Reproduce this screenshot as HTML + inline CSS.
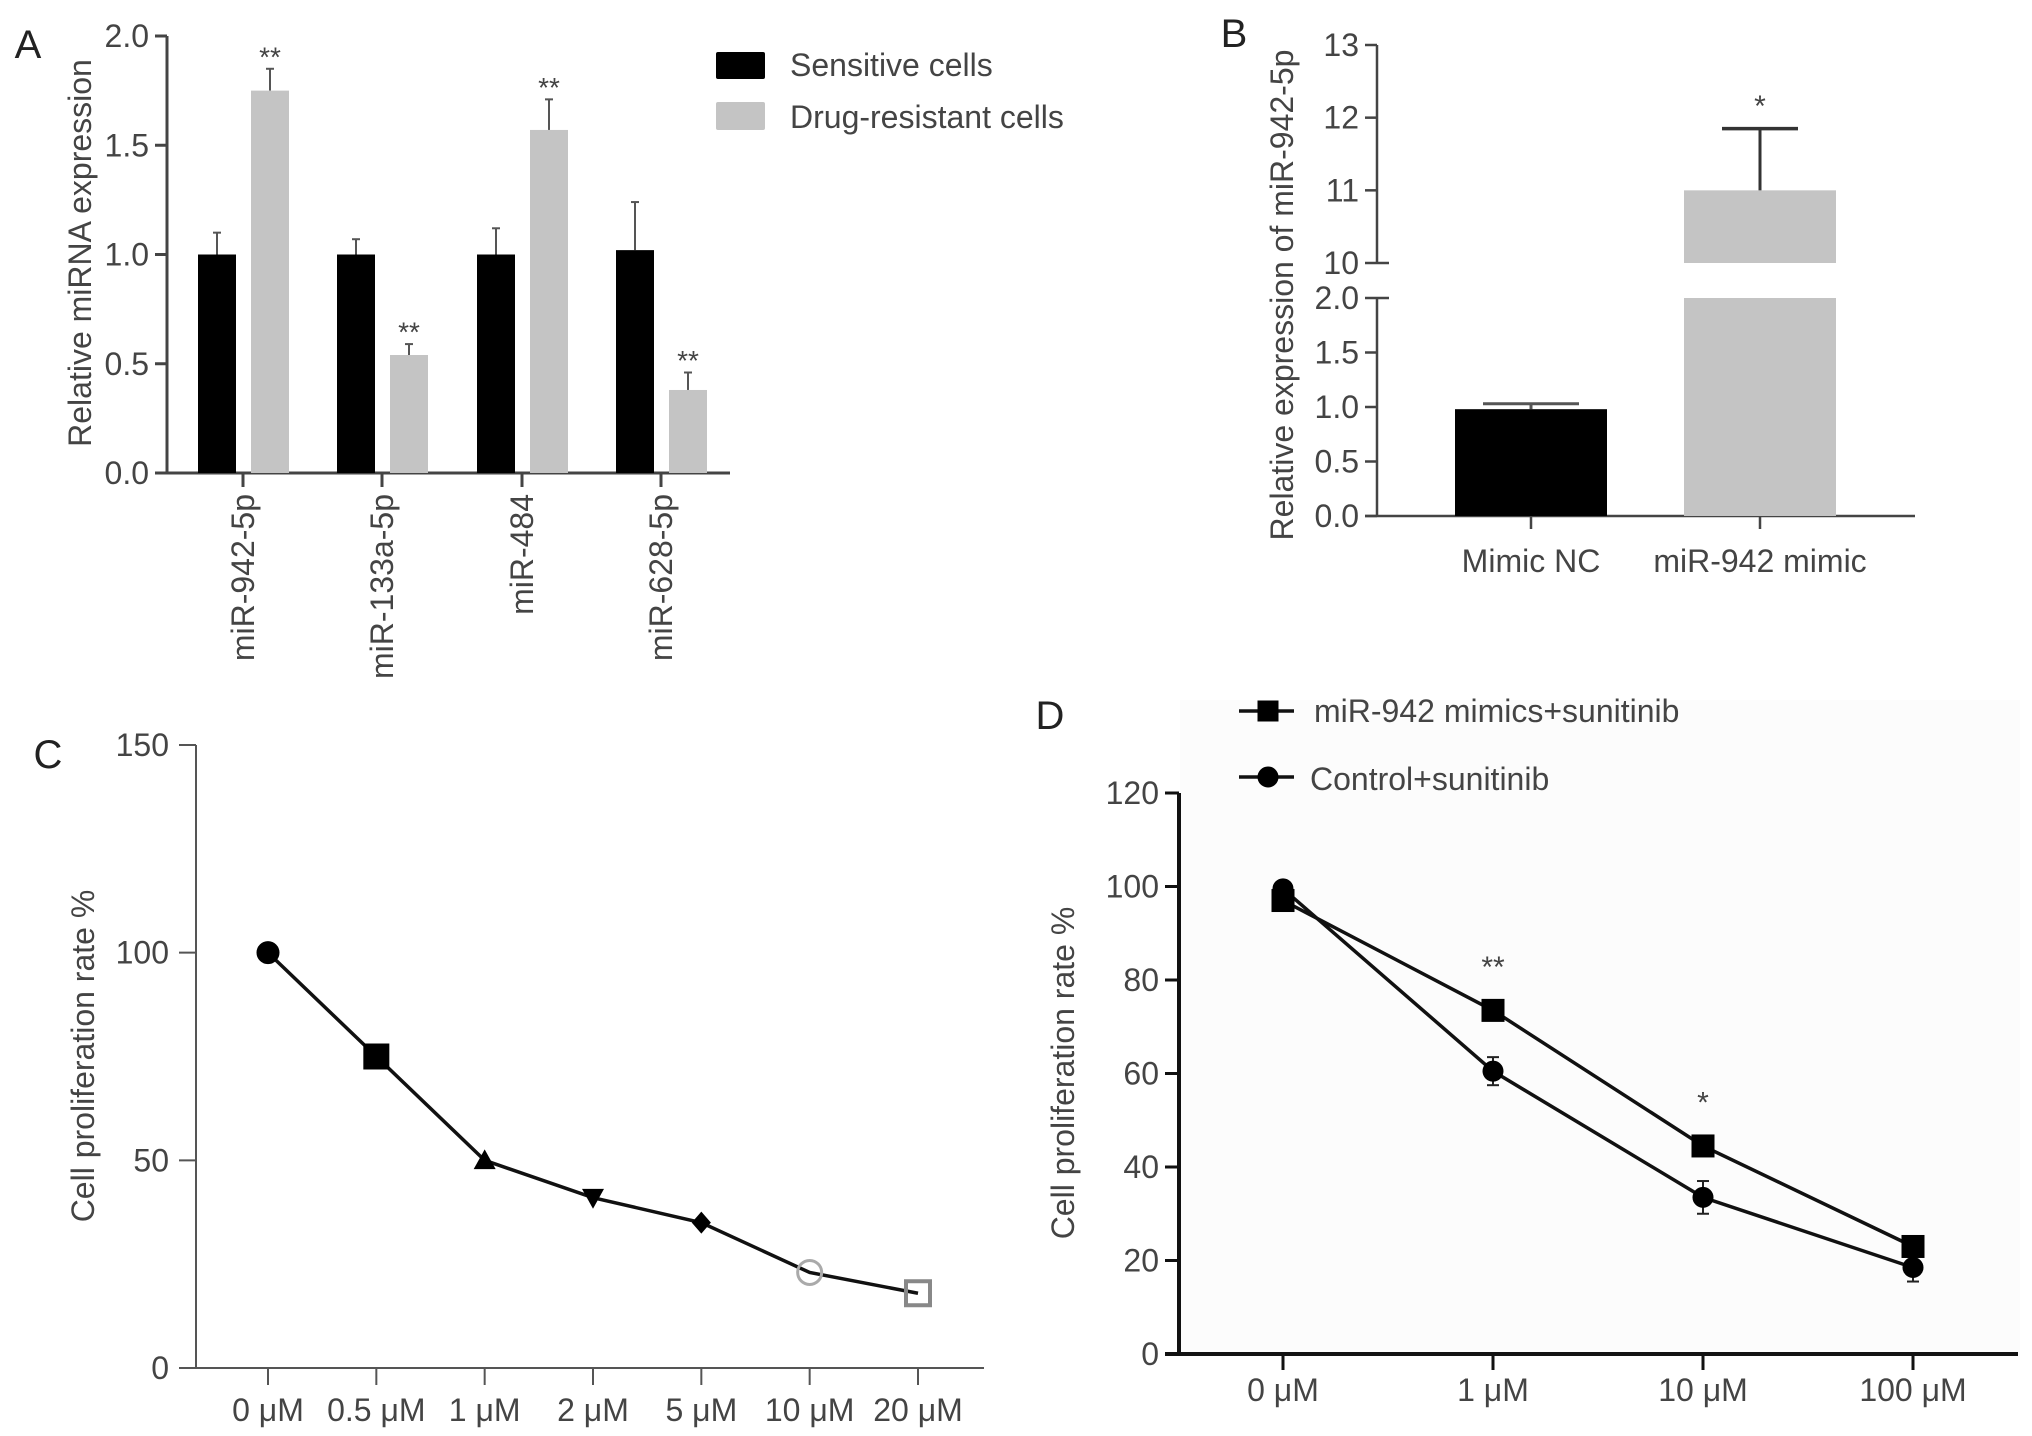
<!DOCTYPE html>
<html><head><meta charset="utf-8"><style>
html,body{margin:0;padding:0;background:#fff;}
svg{display:block;font-family:"Liberation Sans Narrow","Liberation Sans",sans-serif;}
text{fill:#444;}
</style></head><body>
<svg id="fig" width="2032" height="1436" viewBox="0 0 2032 1436" xmlns="http://www.w3.org/2000/svg">
<rect x="1180" y="700" width="840" height="660" fill="#fcfcfc"/>
</svg>
<script>
// Panel A data
const aCategories = ["miR-942-5p","miR-133a-5p","miR-484","miR-628-5p"];
const aSensitive = [1.0,1.0,1.0,1.02];
const aSensitiveErr = [0.1,0.07,0.12,0.22];
const aResistant = [1.75,0.54,1.57,0.38];
const aResistantErr = [0.1,0.05,0.14,0.08];
const aStars = ["**","**","**","**"];
const aTicks = [0,0.5,1.0,1.5,2.0];
// Panel B data
const bCategories = ["Mimic NC","miR-942 mimic"];
const bValues = [0.98,11.0];
const bErr = [0.05,0.85];
const bLowTicks = [0,0.5,1.0,1.5,2.0];
const bHighTicks = [10,11,12,13];
// Panel C data
const cCategories = ["0 μM","0.5 μM","1 μM","2 μM","5 μM","10 μM","20 μM"];
const cValues = [100,75,50,41,35,23,18];
const cMarkers = ["circle","square","triangle","triangle-down","diamond","open-circle","open-square"];
const cTicks = [0,50,100,150];
// Panel D data
const dCategories = ["0 μM","1 μM","10 μM","100 μM"];
const dMimics = [97,73.5,44.5,23];
const dMimicsErr = [1,1.5,1.5,1.5];
const dControl = [99.5,60.5,33.5,18.5];
const dControlErr = [1,3,3.5,3];
const dStars = ["","**","*",""];
const dTicks = [0,20,40,60,80,100,120];

const NS="http://www.w3.org/2000/svg";
const svg=document.getElementById('fig');
function mk(tag,attrs,parent){const e=document.createElementNS(NS,tag);for(const k in attrs)e.setAttribute(k,attrs[k]);(parent||svg).appendChild(e);return e;}
function txt(s,x,y,size,anchor,parent){const t=mk('text',{x:x,y:y,'font-size':size,'text-anchor':anchor||'middle','dominant-baseline':'central'},parent);t.textContent=s;return t;}
function grp(name){const g=mk('g',{});return g;}

// ===== Panel A =====
(function(){
const g=grp('panel-a');
const x0=167,x1=730,yTop=36,yBot=473,vmax=2.0;
const yA=v=>yBot-(v/vmax)*(yBot-yTop);
const tickX=[243,382,522,661];
const lab=txt('A',28,45,40,'middle',g);lab.setAttribute('style','fill:#222');
const axY=mk('line',{x1:x0,y1:yTop,x2:x0,y2:yBot,stroke:'#444','stroke-width':3},g);

const axX=mk('line',{x1:x0-12,y1:yBot,x2:x1,y2:yBot,stroke:'#444','stroke-width':3},g);

aTicks.forEach(v=>{mk('line',{x1:x0-12,y1:yA(v),x2:x0,y2:yA(v),stroke:'#444','stroke-width':3},g);
 const t=txt(v.toFixed(1),x0-18,yA(v),32,'end',g);});
const yl=txt('Relative miRNA expression',80,253,32,'middle',g);yl.setAttribute('transform','rotate(-90 80 253)');

aCategories.forEach((c,i)=>{
 const cx=tickX[i];
 mk('line',{x1:cx,y1:yBot,x2:cx,y2:yBot+14,stroke:'#444','stroke-width':3},g);
 const t=txt(c,cx,494,32,'end',g);t.setAttribute('transform','rotate(-90 '+cx+' 494)');
 
 const bx=cx-26, rx=cx+27, w=38;
 const eS=yA(aSensitive[i]+aSensitiveErr[i]);
 mk('line',{x1:bx,y1:eS,x2:bx,y2:yA(aSensitive[i]),stroke:'#555','stroke-width':2},g);
 mk('line',{x1:bx-4,y1:eS,x2:bx+4,y2:eS,stroke:'#555','stroke-width':2},g);
 const b1=mk('rect',{x:bx-w/2,y:yA(aSensitive[i]),width:w,height:yBot-yA(aSensitive[i]),fill:'#000'},g);
 
 const eR=yA(aResistant[i]+aResistantErr[i]);
 mk('line',{x1:rx,y1:eR,x2:rx,y2:yA(aResistant[i]),stroke:'#555','stroke-width':2},g);
 mk('line',{x1:rx-4,y1:eR,x2:rx+4,y2:eR,stroke:'#555','stroke-width':2},g);
 const b2=mk('rect',{x:rx-w/2,y:yA(aResistant[i]),width:w,height:yBot-yA(aResistant[i]),fill:'#c4c4c4'},g);
 
 const s=txt(aStars[i],rx,eR-12,28,'middle',g);
});
const l1=mk('rect',{x:716,y:52,width:49,height:27,fill:'#000',rx:2},g);
const lt1=txt('Sensitive cells',790,65,32,'start',g);
const l2=mk('rect',{x:716,y:102,width:49,height:28,fill:'#c4c4c4',rx:2},g);
const lt2=txt('Drug-resistant cells',790,117,32,'start',g);
})();

// ===== Panel B =====
(function(){
const g=grp('panel-b');
const x0=1377,x1=1915,yBot=516,yLowTop=298,yHi10=263,yHi13=45;
const yL=v=>yBot-(v/2.0)*(yBot-yLowTop);
const yH=v=>yHi10-((v-10)/3)*(yHi10-yHi13);
const tickX=[1531,1760];
const lab=txt('B',1234,34,40,'middle',g);lab.setAttribute('style','fill:#222');
const a1=mk('line',{x1:x0,y1:yHi13,x2:x0,y2:yHi10,stroke:'#444','stroke-width':2.5},g);
const a2=mk('line',{x1:x0,y1:yLowTop,x2:x0,y2:yBot,stroke:'#444','stroke-width':2.5},g);
const ax=mk('line',{x1:x0-12,y1:yBot,x2:x1,y2:yBot,stroke:'#444','stroke-width':2.5},g);
bLowTicks.forEach(v=>{const y=yL(v);mk('line',{x1:x0-12,y1:y,x2:v===2.0?x0+12:x0,y2:y,stroke:'#444','stroke-width':2.5},g);
 const t=txt(v.toFixed(1),x0-18,y,32,'end',g);});
bHighTicks.forEach(v=>{const y=yH(v);mk('line',{x1:x0-12,y1:y,x2:v===10?x0+12:x0,y2:y,stroke:'#444','stroke-width':2.5},g);
 const t=txt(String(v),x0-18,y,32,'end',g);});
const yl=txt('Relative expression of miR-942-5p',1282,295,32,'middle',g);yl.setAttribute('transform','rotate(-90 1282 295)');

const colors=['#000','#c4c4c4'];
bCategories.forEach((c,i)=>{
 const cx=tickX[i],w=152;
 mk('line',{x1:cx,y1:yBot,x2:cx,y2:yBot+13,stroke:'#444','stroke-width':2.5},g);
 const t=txt(c,cx,561,32,'middle',g);
 const v=bValues[i],e=v+bErr[i];
 if(v<=2){
  const ey=yL(e);
  mk('line',{x1:cx,y1:ey,x2:cx,y2:yL(v),stroke:'#555','stroke-width':3},g);
  mk('line',{x1:cx-48,y1:ey,x2:cx+48,y2:ey,stroke:'#555','stroke-width':3},g);
  const b=mk('rect',{x:cx-w/2,y:yL(v),width:w,height:yBot-yL(v),fill:colors[i]},g);
  
 } else {
  const b=mk('rect',{x:cx-w/2,y:yLowTop,width:w,height:yBot-yLowTop,fill:colors[i]},g);
  
  const b2=mk('rect',{x:cx-w/2,y:yH(v),width:w,height:yHi10-yH(v),fill:colors[i]},g);
  
  const ey=yH(e);
  mk('line',{x1:cx,y1:ey,x2:cx,y2:yH(v),stroke:'#333','stroke-width':3},g);
  mk('line',{x1:cx-38,y1:ey,x2:cx+38,y2:ey,stroke:'#333','stroke-width':3.5},g);
  const s=txt('*',cx,ey-22,30,'middle',g);
 }
});
})();

function marker(g,type,x,y,size,name){
 let e; const s=size;
 if(type==='circle'||type==='open-circle'){e=mk('circle',{cx:x,cy:y,r:s/2,fill:type==='circle'?'#000':'none',stroke:type==='circle'?'#000':'#aaa','stroke-width':type==='circle'?1:3},g);}
 else if(type==='square'||type==='open-square'){e=mk('rect',{x:x-s/2,y:y-s/2,width:s,height:s,fill:type==='square'?'#000':'none',stroke:type==='square'?'#000':'#888','stroke-width':type==='square'?1:4},g);}
 else if(type==='triangle'){e=mk('polygon',{points:`${x},${y-s/2} ${x-s/2},${y+s/2.5} ${x+s/2},${y+s/2.5}`,fill:'#000'},g);}
 else if(type==='triangle-down'){e=mk('polygon',{points:`${x},${y+s/2} ${x-s/2},${y-s/2.5} ${x+s/2},${y-s/2.5}`,fill:'#000'},g);}
 else {e=mk('polygon',{points:`${x},${y-s/2} ${x+s/2.3},${y} ${x},${y+s/2} ${x-s/2.3},${y}`,fill:'#000'},g);}
 
 
}

// ===== Panel C =====
(function(){
const g=grp('panel-c');
const x0=196,x1=984,yBot=1368,yTop=745,vmax=150;
const yC=v=>yBot-(v/vmax)*(yBot-yTop);
const xStart=268,xStep=(918-268)/(cCategories.length-1);
const xC=i=>xStart+i*xStep;
const lab=txt('C',48,755,40,'middle',g);lab.setAttribute('style','fill:#222');
const ay=mk('line',{x1:x0,y1:yTop,x2:x0,y2:yBot,stroke:'#555','stroke-width':2},g);
const ax=mk('line',{x1:179,y1:yBot,x2:x1,y2:yBot,stroke:'#555','stroke-width':2},g);
cTicks.forEach(v=>{mk('line',{x1:x0-17,y1:yC(v),x2:x0,y2:yC(v),stroke:'#555','stroke-width':2},g);
 const t=txt(String(v),x0-27,yC(v),32,'end',g);});
const yl=txt('Cell proliferation rate %',83,1056,32,'middle',g);yl.setAttribute('transform','rotate(-90 83 1056)');

cCategories.forEach((c,i)=>{mk('line',{x1:xC(i),y1:yBot,x2:xC(i),y2:yBot+17,stroke:'#555','stroke-width':2},g);
 const t=txt(c,xC(i),1410,32,'middle',g);});
const pts=cValues.map((v,i)=>xC(i)+','+yC(v)).join(' ');
const ln=mk('polyline',{points:pts,fill:'none',stroke:'#111','stroke-width':3.5},g);
cValues.forEach((v,i)=>marker(g,cMarkers[i],xC(i),yC(v),i===0?22:(i===1?25:(i>=5?24:22)),'panel-c-point-'+cCategories[i]));
})();

// ===== Panel D =====
(function(){
const g=grp('panel-d');
const x0=1179,x1=2018,yBot=1354,yTop=793,vmax=120;
const yD=v=>yBot-(v/vmax)*(yBot-yTop);
const xStart=1283,xStep=(1913-1283)/(dCategories.length-1);
const xD=i=>xStart+i*xStep;
const lab=txt('D',1050,716,40,'middle',g);lab.setAttribute('style','fill:#222');
const ay=mk('line',{x1:x0,y1:yTop,x2:x0,y2:yBot,stroke:'#111','stroke-width':4},g);
const ax=mk('line',{x1:1165,y1:yBot,x2:x1,y2:yBot,stroke:'#111','stroke-width':4},g);
dTicks.forEach(v=>{mk('line',{x1:x0-14,y1:yD(v),x2:x0,y2:yD(v),stroke:'#111','stroke-width':3},g);
 const t=txt(String(v),x0-20,yD(v),32,'end',g);});
const yl=txt('Cell proliferation rate %',1063,1073,32,'middle',g);yl.setAttribute('transform','rotate(-90 1063 1073)');

dCategories.forEach((c,i)=>{mk('line',{x1:xD(i),y1:yBot,x2:xD(i),y2:yBot+16,stroke:'#111','stroke-width':3},g);
 const t=txt(c,xD(i),1390,32,'middle',g);});
const l1=mk('polyline',{points:dMimics.map((v,i)=>xD(i)+','+yD(v)).join(' '),fill:'none',stroke:'#111','stroke-width':3.5},g);

const l2=mk('polyline',{points:dControl.map((v,i)=>xD(i)+','+yD(v)).join(' '),fill:'none',stroke:'#111','stroke-width':3.5},g);

dControl.forEach((v,i)=>{const x=xD(i);const e=dControlErr[i];
 mk('line',{x1:x,y1:yD(v+e),x2:x,y2:yD(v-e),stroke:'#222','stroke-width':2},g);
 mk('line',{x1:x-6,y1:yD(v+e),x2:x+6,y2:yD(v+e),stroke:'#222','stroke-width':2},g);
 mk('line',{x1:x-6,y1:yD(v-e),x2:x+6,y2:yD(v-e),stroke:'#222','stroke-width':2},g);
 marker(g,'circle',x,yD(v),20,'point-control-'+dCategories[i]);});
dMimics.forEach((v,i)=>{marker(g,'square',xD(i),yD(v),22,'point-mimics-'+dCategories[i]);
 if(dStars[i]){const s=txt(dStars[i],xD(i),yD(v+dMimicsErr[i])-36,30,'middle',g);}});
mk('line',{x1:1239,y1:711,x2:1294,y2:711,stroke:'#111','stroke-width':3.5},g);
marker(g,'square',1268,711,20,'legend-marker-mimics');
const t1=txt('miR-942 mimics+sunitinib',1314,711,32,'start',g);
mk('line',{x1:1239,y1:777,x2:1294,y2:777,stroke:'#111','stroke-width':3.5},g);
marker(g,'circle',1268,777,20,'legend-marker-control');
const t2=txt('Control+sunitinib',1310,779,32,'start',g);
})();
</script>
</body></html>
